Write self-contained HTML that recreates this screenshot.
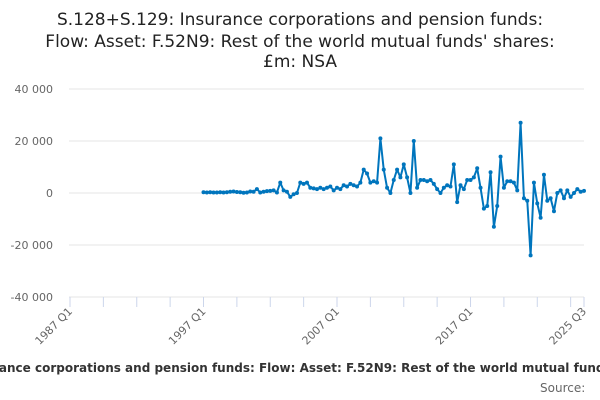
<!DOCTYPE html>
<html><head><meta charset="utf-8"><style>
body{margin:0;background:#fff;overflow:hidden}
svg{display:block;font-family:"DejaVu Sans",sans-serif}
</style></head><body>
<svg id="chart" width="600" height="400">
<text x="300" y="25" text-anchor="middle" font-size="17" fill="#222">S.128+S.129: Insurance corporations and pension funds:</text>
<text x="300" y="47" text-anchor="middle" font-size="17" fill="#222">Flow: Asset: F.52N9: Rest of the world mutual funds' shares:</text>
<text x="300" y="67" text-anchor="middle" font-size="17" fill="#222">£m: NSA</text>
<g id="grid"></g><g id="xaxis"></g><g id="series"></g>
<text x="300" y="372" text-anchor="middle" font-size="12" font-weight="bold" fill="#333">S.128+S.129: Insurance corporations and pension funds: Flow: Asset: F.52N9: Rest of the world mutual funds' shares: £m: NSA</text>
<text x="540" y="392" font-size="12" fill="#666">Source:</text>
</svg>
<script>
const yTicks=[40000,20000,0,-20000,-40000];
const yTickLabels=["40 000","20 000","0","-20 000","-40 000"];
const xTickLabels=["1987 Q1","1997 Q1","2007 Q1","2017 Q1","2025 Q3"];
const xTickIndex=[0,40,80,120,154];
const startIndex=40;
const values=[0.3,0.2,0.3,0.2,0.2,0.3,0.2,0.3,0.5,0.6,0.4,0.3,0.1,0.2,0.6,0.5,
1.5,0.2,0.5,0.7,0.8,1.0,0.2,4.0,
1.0,0.5,-1.5,-0.5,0.0,4.0,3.5,4.0,
2.0,1.8,1.5,2.0,1.5,2.0,2.5,1.0,
2.0,1.5,3.0,2.5,3.5,3.0,2.5,4.0,
9.0,7.5,4.0,4.5,4.0,21.0,9.0,2.0,
0.0,5.0,9.0,6.0,11.0,6.0,0.0,20.0,
2.0,5.0,5.0,4.5,5.0,3.5,1.5,0.0,
2.0,3.0,2.5,11.0,
-3.5,3.0,1.5,5.0,5.0,6.0,9.5,2.0,-6.0,-5.0,8.0,-13.0,-5.0,14.0,2.0,4.5,4.5,4.0,1.0,27.0,-2.0,-3.0,-24.0,4.0,-4.0,-9.5,7.0,-3.0,-2.0,-7.0,0.0,1.0,-2.0,1.0,-1.5,0.0,1.5,0.5,0.8];
const NS="http://www.w3.org/2000/svg";
const x=i=>70+i*(514/154);
const y=v=>193-v*0.0026;
function mk(t,a,p){const e=document.createElementNS(NS,t);for(const k in a)e.setAttribute(k,a[k]);p.appendChild(e);return e;}
const grid=document.getElementById('grid');
yTicks.forEach((v,i)=>{
 const l=mk('line',{x1:69,x2:584,y1:y(v),y2:y(v),stroke:'#e6e6e6','stroke-width':1},grid);
 
 
 const t=mk('text',{x:53,y:y(v)+4,'text-anchor':'end','font-size':11,fill:'#666'},grid);
 t.textContent=yTickLabels[i];
 
 
});
const xa=document.getElementById('xaxis');
for(let q=0;q<=154;q+=10){
 const tk=mk('line',{x1:x(q),x2:x(q),y1:297,y2:307,stroke:'#ccd6eb'},xa);
 
 
}
const lt=mk('line',{x1:x(154),x2:x(154),y1:297,y2:307,stroke:'#ccd6eb'},xa);


xTickLabels.forEach((s,i)=>{
 const px=x(xTickIndex[i])+3, py=312;
 const t=mk('text',{x:px,y:py,'text-anchor':'end','font-size':11,fill:'#666',transform:`rotate(-45 ${px} ${py})`},xa);
 t.textContent=s;
 
 
});
const sg=document.getElementById('series');
const pts=values.map((v,i)=>x(startIndex+i).toFixed(2)+','+y(v*1000).toFixed(2)).join(' ');
const pl=mk('polyline',{points:pts,fill:'none',stroke:'#0075bd','stroke-width':2,'stroke-linejoin':'round'},sg);


values.forEach((v,i)=>{
 const c=mk('circle',{cx:x(startIndex+i),cy:y(v*1000),r:2,fill:'#0075bd'},sg);
 
 
});
</script>
</body></html>
